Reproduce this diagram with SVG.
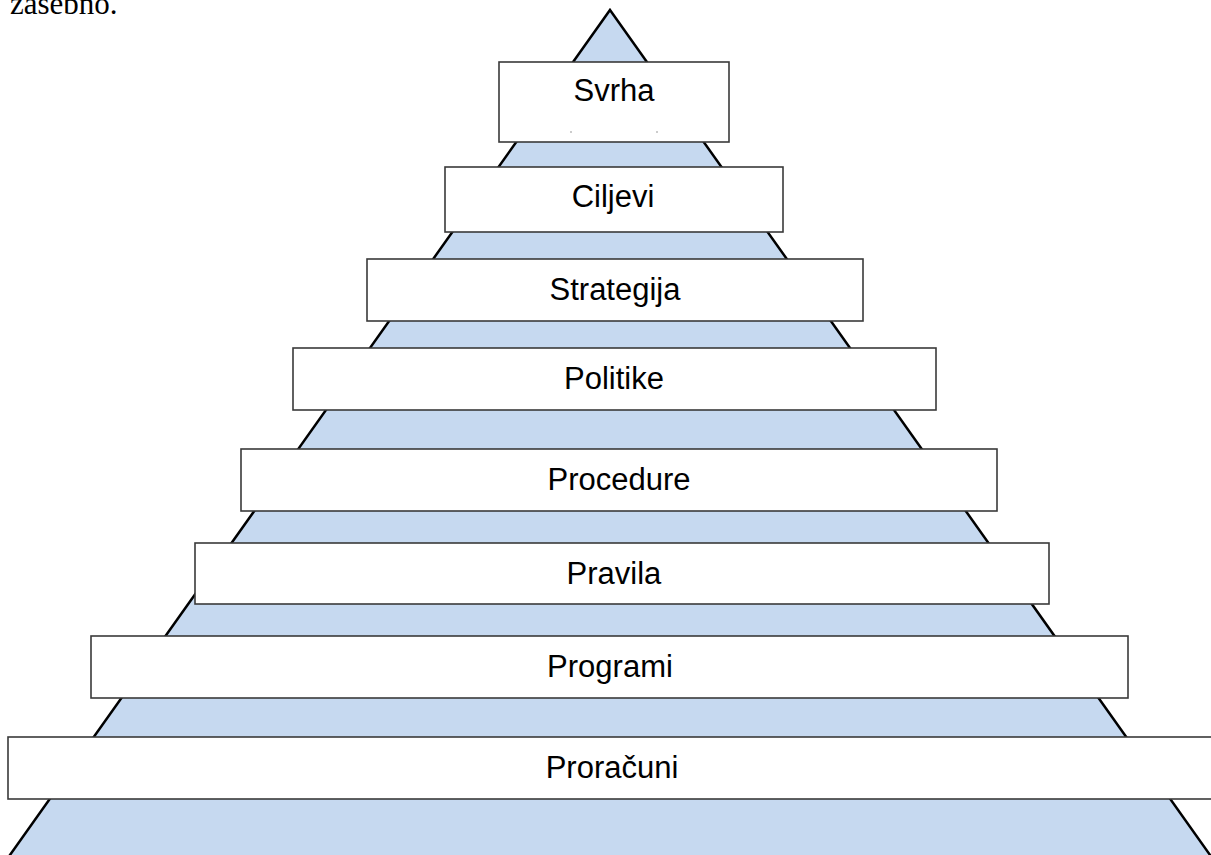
<svg xmlns="http://www.w3.org/2000/svg" width="1211" height="855" viewBox="0 0 1211 855">
<style>
.box rect{fill:#fff;stroke:#3a3a3a;stroke-width:1.6}
.box text{font-family:"Liberation Sans",Arial,sans-serif;font-size:31px;fill:#000;text-anchor:middle}
</style>
<rect width="1211" height="855" fill="#fff"/>
<text x="10" y="14" font-family="Liberation Serif,'Times New Roman',serif" font-size="31" fill="#000">zasebno.</text>
<g id="pyramid">
<polygon points="610,10 1213.6,860 6.4,860" fill="#c6d9f0" stroke="#000" stroke-width="2.5" stroke-linejoin="miter"/>
</g>
<g id="connectors"></g>
<g id="svrha" class="box"><rect x="499" y="62" width="230" height="80"/><text x="614" y="101">Svrha</text>
<line x1="570" y1="132" x2="572" y2="132" stroke="#999" stroke-width="1"/><line x1="656" y1="132" x2="658" y2="132" stroke="#999" stroke-width="1"/></g>
<g id="ciljevi" class="box"><rect x="445" y="167" width="338" height="65"/><text x="613" y="207">Ciljevi</text></g>
<g id="strategija" class="box"><rect x="367" y="259" width="496" height="62"/><text x="615" y="300">Strategija</text></g>
<g id="politike" class="box"><rect x="293" y="348" width="643" height="62"/><text x="614" y="389">Politike</text></g>
<g id="procedure" class="box"><rect x="241" y="449" width="756" height="62"/><text x="619" y="490">Procedure</text></g>
<g id="pravila" class="box"><rect x="195" y="543" width="854" height="61"/><text x="614" y="584">Pravila</text></g>
<g id="programi" class="box"><rect x="91" y="636" width="1037" height="62"/><text x="610" y="677">Programi</text></g>
<g id="proracuni" class="box"><rect x="8" y="737" width="1210" height="62"/><text x="612" y="778">Proračuni</text></g>
</svg>
